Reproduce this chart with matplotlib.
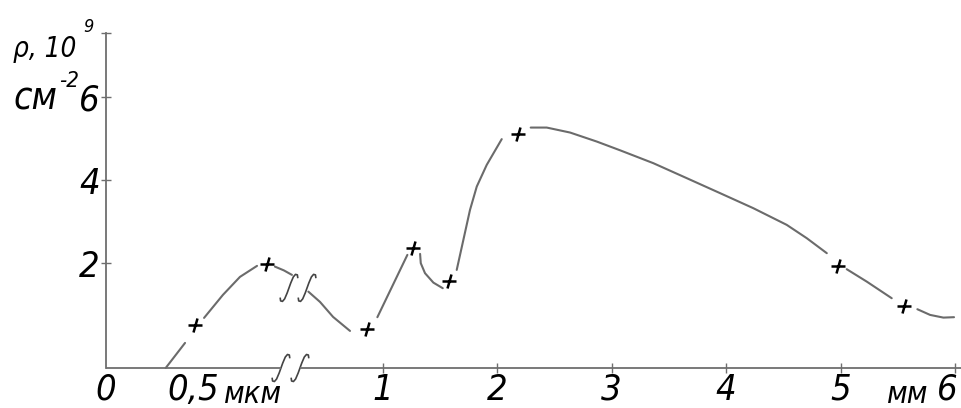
import matplotlib
matplotlib.use("Agg")
import matplotlib.pyplot as plt
import matplotlib.transforms as mtransforms

plt.rcParams["font.family"] = ["DejaVu Sans"]
plt.rcParams["font.style"] = "italic"
plt.rcParams["font.stretch"] = "condensed"

# left part of the x axis is in micrometres, right part in millimetres
UM_ORIGIN = -1.415   # axis position of 0 um (in mm units of the right part)
UM_SCALE = 1.432     # axis units per um

# curve pieces in the um region (x in um, y in 10^9 cm^-2)
um_seg_x = [[0.364, 0.482],
            [0.598, 0.713, 0.817, 0.921],
            [1.030, 1.085, 1.134]]
um_seg_y = [[-0.52, 0.084],
            [0.687, 1.241, 1.675, 1.94],
            [1.923, 1.831, 1.723]]
um_mark_x = [0.543, 0.982]
um_mark_y = [0.506, 1.99]

# curve pieces in the mm region
mm_seg_x = [[0.352, 0.454, 0.568, 0.716],
            [0.955, 1.217],
            [1.328, 1.334, 1.371, 1.444, 1.526],
            [1.648, 1.706, 1.764, 1.823, 1.910, 2.041],
            [2.294, 2.434, 2.638, 2.871, 3.074, 3.365, 3.657, 3.948, 4.238, 4.530, 4.705, 4.880],
            [5.054, 5.229, 5.447],
            [5.671, 5.782, 5.898, 5.991]]
mm_seg_y = [[1.320, 1.072, 0.711, 0.373],
            [0.704, 2.205],
            [2.229, 2.005, 1.764, 1.537, 1.402],
            [1.843, 2.566, 3.289, 3.851, 4.373, 4.993],
            [5.272, 5.272, 5.152, 4.935, 4.725, 4.414, 4.053, 3.692, 3.330, 2.928, 2.607, 2.246],
            [1.860, 1.561, 1.161],
            [0.896, 0.759, 0.694, 0.704]]
mm_mark_x = [0.865, 1.269, 1.583, 2.181, 4.976, 5.555]
mm_mark_y = [0.417, 2.366, 1.586, 5.120, 1.940, 0.983]

x_ticks = [1, 2, 3, 4, 5, 6]
x_tick_labels = ["1", "2", "3", "4", "5", ""]
y_ticks = [2, 4, 6]
y_tick_labels = ["2", "4", "6"]

Y_MIN, Y_MAX = -0.52, 7.55
X_MAX = 6.052

# break marks: (um position, mm position, y)
AXIS_BREAK = (1.067, 0.279)
CURVE_BREAK = (1.116, 0.341, 1.41)

LINE_C = "#6b6b6b"
AXIS_C = "#6e6e6e"


def um_to_axis(v):
    return UM_ORIGIN + v * UM_SCALE


W, H = 961, 408
fig = plt.figure(figsize=(W / 100, H / 100), dpi=100)
ax = fig.add_axes([106 / W, 40 / H, 1 - 106 / W, (368 - 33) / H])


def px(x, y):
    return x / W, 1 - y / H


# curve
for xs, ys in zip(um_seg_x, um_seg_y):
    ax.plot([um_to_axis(v) for v in xs], ys, color=LINE_C, lw=1.5,
            solid_capstyle="round", solid_joinstyle="round", clip_on=False)
for xs, ys in zip(mm_seg_x, mm_seg_y):
    ax.plot(xs, ys, color=LINE_C, lw=1.5, solid_capstyle="round",
            solid_joinstyle="round", clip_on=False)

plus = matplotlib.markers.MarkerStyle("+", transform=mtransforms.Affine2D().skew_deg(14, 0))
ax.plot([um_to_axis(v) for v in um_mark_x] + mm_mark_x, um_mark_y + mm_mark_y,
        ls="none", marker=plus, ms=10.5, mew=1.8, color="black", clip_on=False)

# integral-like break glyph, in pixels around its centre
glyph_x = [-6, -5, -3, -1.5, -0.5, 0, 0.5, 1.5, 3, 5, 6]
glyph_y = [-10.5, -13, -13.5, -11, -5, 0, 5, 11, 13.5, 13, 10.5]


def break_mark(x, y, yaxis_trans=False):
    base = ax.get_xaxis_transform() if yaxis_trans else ax.transData
    tr = fig.dpi_scale_trans + mtransforms.ScaledTranslation(x, y, base)
    gx = [(a + 0.26 * b) / 100 for a, b in zip(glyph_x, glyph_y)]
    gy = [b / 100 for b in glyph_y]
    ax.plot(gx, gy, color="#444444", lw=1.2, transform=tr, clip_on=False)


break_mark(um_to_axis(CURVE_BREAK[0]), CURVE_BREAK[2])
break_mark(CURVE_BREAK[1], CURVE_BREAK[2])
break_mark(um_to_axis(AXIS_BREAK[0]), 0, True)
break_mark(AXIS_BREAK[1], 0, True)

# axes
ax.set_xlim(UM_ORIGIN, X_MAX)
ax.set_ylim(Y_MIN, Y_MAX)
for s in ["top", "right", "bottom"]:
    ax.spines[s].set_visible(False)
ax.spines["left"].set_color(AXIS_C)
ax.spines["left"].set_linewidth(1.3)
xt = ax.get_xaxis_transform()
ax.plot([UM_ORIGIN, um_to_axis(AXIS_BREAK[0])], [0, 0], color=AXIS_C, lw=1.3,
        transform=xt, clip_on=False, solid_capstyle="butt")
ax.plot([AXIS_BREAK[1], X_MAX], [0, 0], color=AXIS_C, lw=1.3,
        transform=xt, clip_on=False, solid_capstyle="butt")

ax.set_xticks(x_ticks)
ax.set_xticklabels(x_tick_labels)
ax.set_yticks(y_ticks + [Y_MAX])
ax.set_yticklabels(y_tick_labels + [""])
ax.tick_params(direction="inout", length=7, width=1, color=AXIS_C, labelsize=26)
ax.tick_params(axis="x", pad=0)
ax.tick_params(axis="y", pad=1)

lab_kw = dict(xycoords=xt, textcoords="offset points")
ax.annotate("0", (UM_ORIGIN, 0), xytext=(0, -3.5), ha="center", va="top",
            fontsize=26, **lab_kw)
ax.annotate("0,5", (um_to_axis(0.5), 0), xytext=(-15, -3.5), ha="left", va="top",
            fontsize=26, **lab_kw)
ax.annotate("мкм", (um_to_axis(0.5), 0), xytext=(26, -25), ha="left", va="baseline",
            fontsize=22, **lab_kw)
ax.annotate("6", (6, 0), xytext=(2, -3.5), ha="right", va="top", fontsize=26, **lab_kw)
ax.annotate("мм", (6, 0), xytext=(-19, -25), ha="right", va="baseline",
            fontsize=22, **lab_kw)

# y axis title
fig.text(*px(13, 57), "ρ, 10", fontsize=20, va="baseline")
fig.text(*px(83, 32), "9", fontsize=13, va="baseline")
fig.text(*px(13, 110), "см", fontsize=27, va="baseline")
fig.text(*px(59, 87), "-2", fontsize=16, va="baseline")

fig.savefig("out.png", dpi=100)
